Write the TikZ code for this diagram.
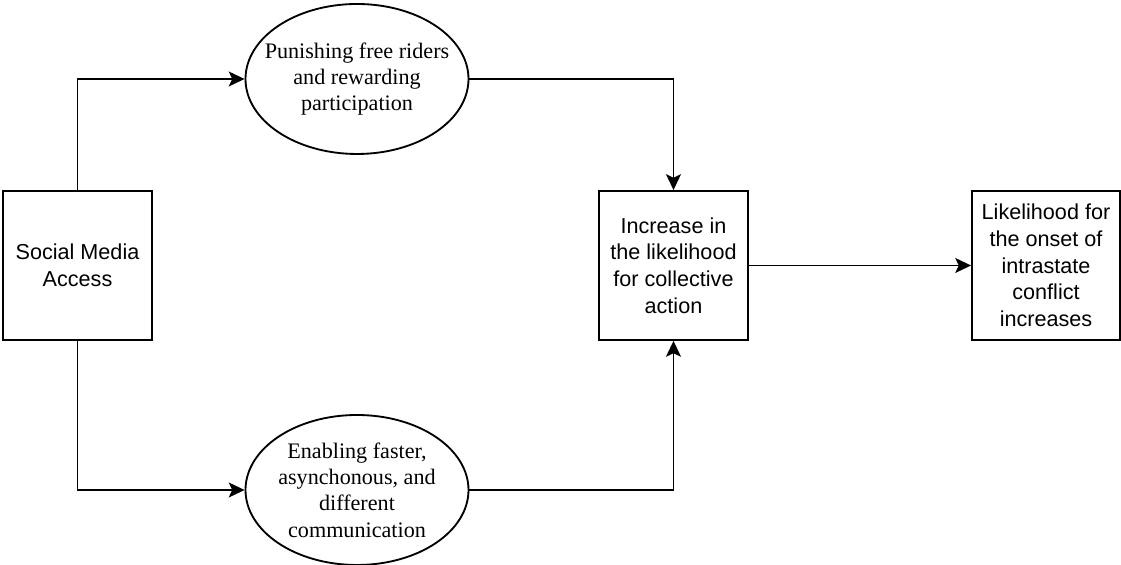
\documentclass[tikz,border=0pt]{standalone}
\usepackage{fontspec}
\setmainfont{Liberation Serif}
\setsansfont{Liberation Sans}
\usepackage{tikz}
\usetikzlibrary{arrows.meta, shapes.geometric, positioning}

\begin{document}
\begin{tikzpicture}[>={Stealth[length=9pt, width=8.5pt, inset=2pt]}, line width=1.05pt,
    box/.style={draw, rectangle, minimum width=2.98cm, minimum height=2.98cm,
        inner sep=2pt, align=center, font=\sffamily\fontsize{12.3}{15.2}\selectfont},
    oval/.style={draw, ellipse, minimum width=4.46cm, minimum height=3cm, inner sep=0pt},
    ovaltext/.style={align=center, font=\rmfamily\fontsize{12.6}{15}\selectfont}]
    \useasboundingbox (0,0) rectangle (22.42,11.3);
    
    % 1. Boxes
    \node[box] (social) at (1.55,5.99) {Social Media\\Access};
    \node[box] (collective) at (13.47,5.99) {Increase in\\the likelihood\\for collective\\action};
    \node[box, minimum width=2.96cm] (onset) at (20.92,5.99)
        {Likelihood for\\the onset of\\intrastate\\conflict\\increases};
    
    % 2. Ellipses
    \node[oval, label={[ovaltext]center:Punishing free riders\\and rewarding\\participation}]
        (punish) at (7.14,9.72) {};
    \node[oval, label={[ovaltext]center:Enabling faster,\\asynchonous, and\\different\\communication}]
        (enable) at (7.14,1.5) {};
    
    % 3. Arrows
    \draw[->] (social.north) |- (punish.west);
    \draw[->] (punish.east) -| (collective.north);
    \draw[->] (social.south) |- (enable.west);
    \draw[->] (enable.east) -| (collective.south);
    \draw[->] (collective.east) -- (onset.west);
\end{tikzpicture}
\end{document}
